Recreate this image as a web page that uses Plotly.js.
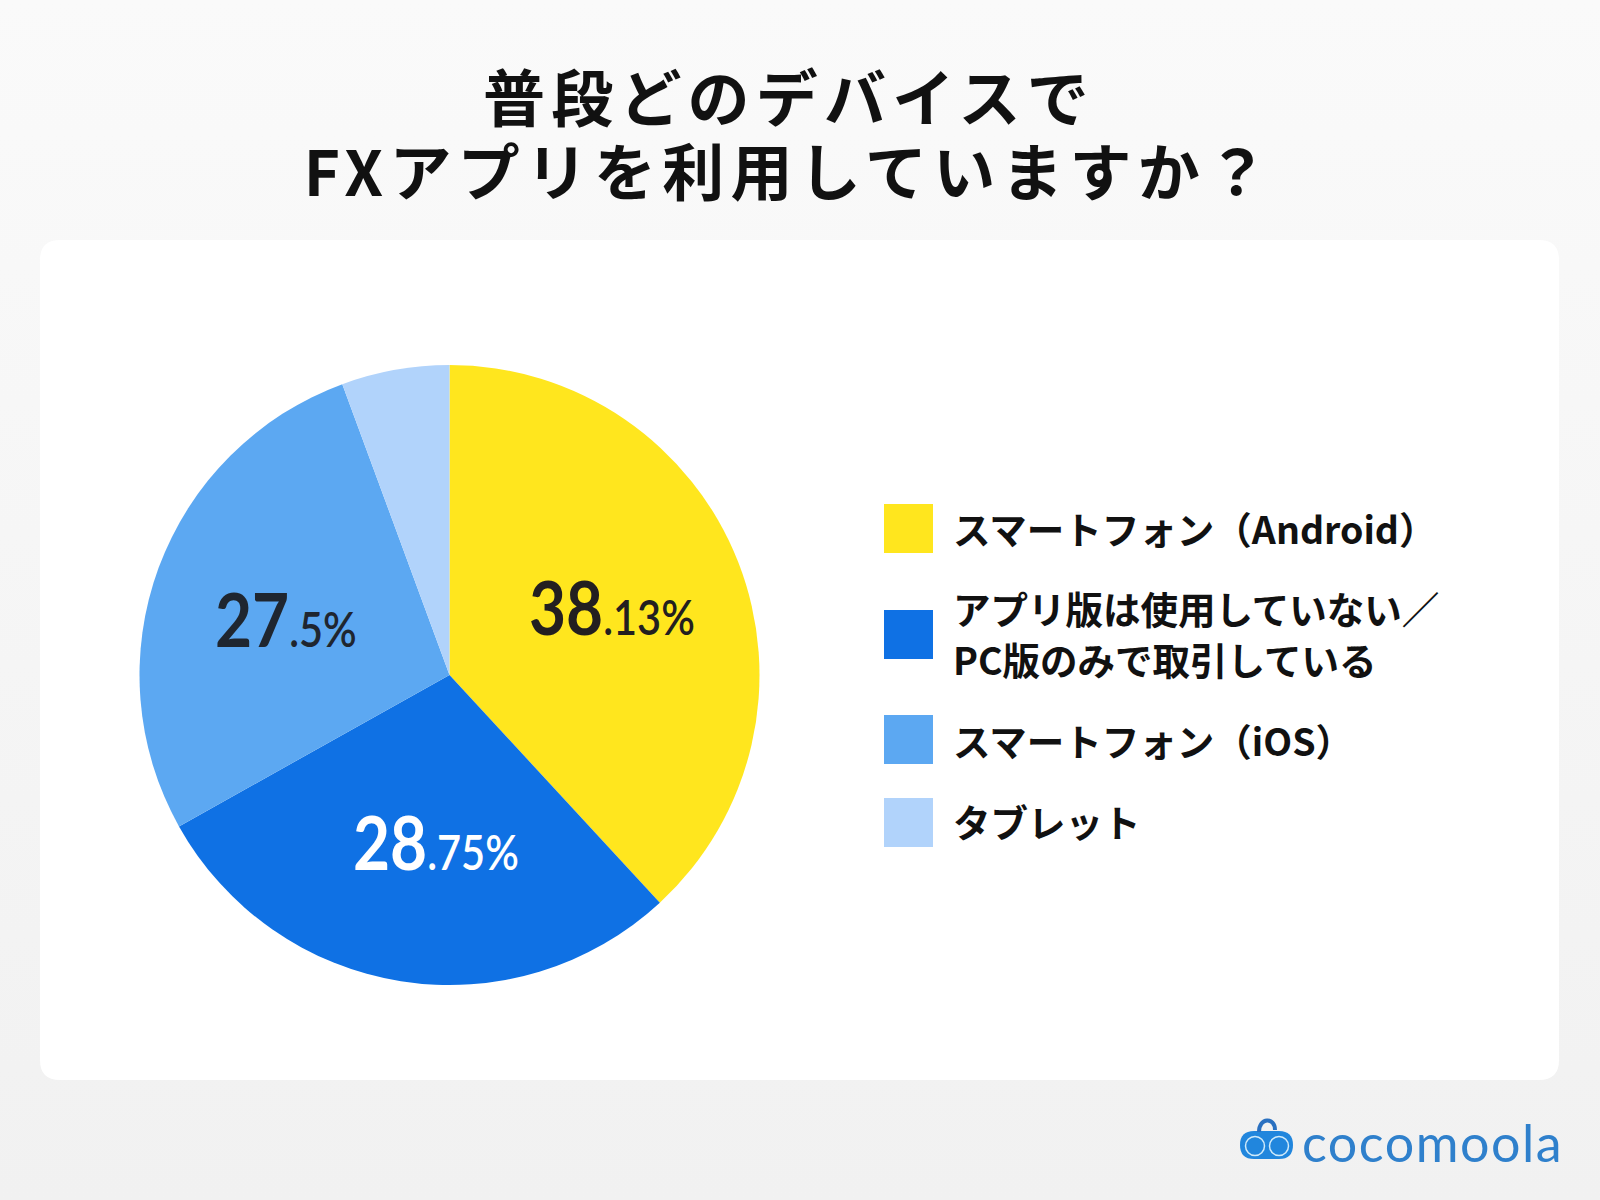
<!DOCTYPE html>
<html lang="ja">
<head>
<meta charset="utf-8">
<script src="https://cdn.plot.ly/plotly-3.0.1.min.js"></script>
<style>
html,body{margin:0;padding:0;width:1600px;height:1200px;overflow:hidden;background:linear-gradient(180deg,#fafafa 0%,#f1f1f1 100%);}
#chart{width:1600px;height:1200px;}
.gtitle{letter-spacing:6.2px;}
.annotation[data-index="0"] .annotation-text,
.annotation[data-index="1"] .annotation-text,
.annotation[data-index="2"] .annotation-text{transform-box:fill-box;transform-origin:left center;transform:scaleX(.865);}
.annotation[data-index="8"] .annotation-text{letter-spacing:1.5px;}
</style>
</head>
<body>
<div id="chart"></div>
<script>
const titleLines = ["普段どのデバイスで", "FXアプリを利用していますか？"];
const categories = ["スマートフォン（Android）", "アプリ版は使用していない／<br>PC版のみで取引している", "スマートフォン（iOS）", "タブレット"];
const shares = [38.13, 28.75, 27.5, 5.62];
const sliceColors = ["#FFE61E", "#0F71E4", "#5CA8F2", "#B1D3FB"];
const brandName = "cocomoola";

const W = 1600, H = 1200;
const fx = x => x / W, fy = y => 1 - y / H;
const CJK = '"Noto Sans CJK JP","Noto Sans",sans-serif';
const NUM = '"Lato",sans-serif';

function roundRect(x0, y0, x1, y1, r) {
  const P = (x, y) => fx(x) + ' ' + fy(y);
  return 'M ' + P(x0 + r, y0) + ' L ' + P(x1 - r, y0) + ' Q ' + P(x1, y0) + ' ' + P(x1, y0 + r) +
    ' L ' + P(x1, y1 - r) + ' Q ' + P(x1, y1) + ' ' + P(x1 - r, y1) +
    ' L ' + P(x0 + r, y1) + ' Q ' + P(x0, y1) + ' ' + P(x0, y1 - r) +
    ' L ' + P(x0, y0 + r) + ' Q ' + P(x0, y0) + ' ' + P(x0 + r, y0) + ' Z';
}
const paperShape = o => Object.assign({xref: 'paper', yref: 'paper', line: {width: 0}}, o);
const circle = (cx, cy, r, o) => paperShape(Object.assign({type: 'circle', x0: fx(cx - r), x1: fx(cx + r), y0: fy(cy + r), y1: fy(cy - r)}, o));

const cx = 449.5, cy = 675, R = 310;
const trace = {
  type: 'pie', labels: categories.map(c => c.replace('<br>', '')), values: shares,
  sort: false, direction: 'clockwise', rotation: 0,
  marker: {colors: sliceColors, line: {width: 0}},
  textinfo: 'none', hoverinfo: 'label+percent', showlegend: false,
  domain: {x: [fx(cx - R), fx(cx + R)], y: [fy(cy + R), fy(cy - R)]}
};

const shapes = [
  paperShape({type: 'path', path: roundRect(40, 240, 1559, 1080, 20), fillcolor: '#ffffff', layer: 'below'})
];
const annotations = [];
const note = (x, y, text, font, anchor) => annotations.push({
  xref: 'paper', yref: 'paper', x: fx(x), y: fy(y), text, showarrow: false,
  xanchor: anchor || 'left', yanchor: 'middle', font, align: 'left'
});

// value labels
const labelSpots = [[527, 606, '#231F20'], [351, 841, '#ffffff'], [213, 618, '#1F2630']];
labelSpots.forEach((s, i) => {
  const parts = String(shares[i]).split('.');
  note(s[0], s[1], '<b>' + parts[0] + '</b><span style="font-size:48px;font-weight:600">.' + parts[1] + '%</span>',
    {family: NUM, size: 74, color: s[2]});
});

// legend
const rowTops = [504, 610, 715, 798];
const rowTextY = [[527], [607, 658], [739], [820]];
categories.forEach((c, i) => {
  shapes.push(paperShape({type: 'rect', x0: fx(884), x1: fx(933), y0: fy(rowTops[i] + 49), y1: fy(rowTops[i]), fillcolor: sliceColors[i]}));
  c.split('<br>').forEach((line, j) => note(951, rowTextY[i][j], line, {family: CJK, size: 37.5, color: '#111111', weight: 700}));
});

// brand logo
shapes.push(paperShape({type: 'path', path: roundRect(1240, 1131, 1293, 1159, 14), fillcolor: '#2186DD'}));
shapes.push(paperShape({type: 'path', path: 'M ' + fx(1259) + ' ' + fy(1132) + ' C ' + fx(1259) + ' ' + fy(1117) + ' ' + fx(1275) + ' ' + fy(1117) + ' ' + fx(1275) + ' ' + fy(1130), line: {color: '#2A70C0', width: 4}}));
shapes.push(circle(1255, 1146, 9.5, {line: {color: '#CFEAFA', width: 1.5}}));
shapes.push(circle(1279, 1146, 9.5, {line: {color: '#CFEAFA', width: 1.5}}));
note(1300, 1142, brandName, {family: '"Lato",sans-serif', size: 52, color: '#2F80CC', weight: 400});

const layout = {
  width: W, height: H, margin: {l: 0, r: 0, t: 0, b: 0},
  paper_bgcolor: 'rgba(0,0,0,0)', plot_bgcolor: 'rgba(0,0,0,0)',
  showlegend: false, shapes, annotations,
  title: {
    text: titleLines.join('<br>'), x: 789 / W, xanchor: 'center', xref: 'paper',
    y: fy(122), yref: 'paper', yanchor: 'top',
    font: {family: CJK, size: 62, color: '#111111', weight: 700}
  }
};
Plotly.newPlot('chart', [trace], layout, {displayModeBar: false, responsive: false}).then(() => {
  document.querySelectorAll('.gtitle .line').forEach((t, i) => { if (i > 0) t.setAttribute('dy', '1.2em'); });
});
</script>
</body>
</html>
